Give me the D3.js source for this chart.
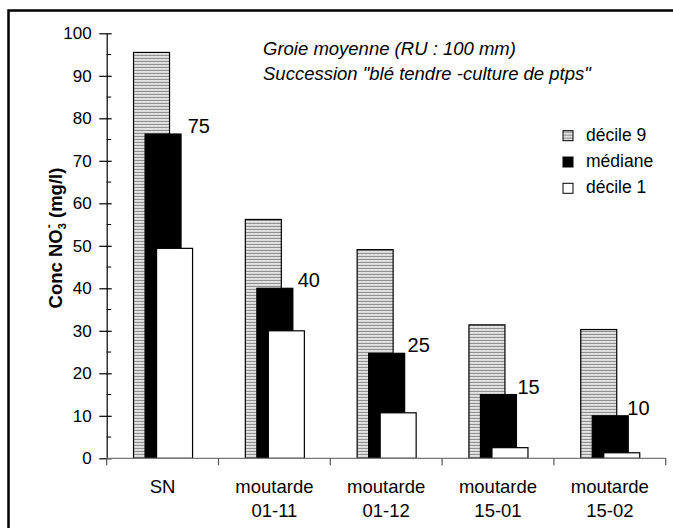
<!DOCTYPE html>
<html><head><meta charset="utf-8">
<script src="https://cdn.jsdelivr.net/npm/d3@7"></script>
<style>
html,body{margin:0;padding:0;background:#fff;overflow:hidden;}
svg{display:block;}
text{font-family:"Liberation Sans",Arial,Helvetica,sans-serif;fill:#000;}
</style></head>
<body><svg id="c" width="673" height="528"></svg>
<script>
const categories = [["SN"],["moutarde","01-11"],["moutarde","01-12"],["moutarde","15-01"],["moutarde","15-02"]];
const decile9 = [95.5, 56.2, 49.1, 31.4, 30.3];
const mediane = [76.3, 40.0, 24.7, 15.0, 10.0];
const decile1 = [49.4, 30.0, 10.7, 2.5, 1.3];
const medianLabels = ["75","40","25","15","10"];
const yMajorTicks = [0,10,20,30,40,50,60,70,80,90,100];
const yMinorTicks = [5,15,25,35,45,55,65,75,85,95];
const seriesNames = ["décile 9","médiane","décile 1"];
const titleLines = ["Groie moyenne (RU : 100 mm)", "Succession \"blé tendre -culture de ptps\""];

const svg = d3.select("#c");
const defs = svg.append("defs");
const pat = defs.append("pattern").attr("id","zig").attr("patternUnits","userSpaceOnUse")
  .attr("width",4).attr("height",3);
pat.append("rect").attr("width",4).attr("height",3).attr("fill","#ececec");
pat.append("path").attr("d","M0,2.2 L1,0.8 L2,2.2 L3,0.8 L4,2.2").attr("fill","none")
  .attr("stroke","#505050").attr("stroke-width",0.6);

// frame (only top and left edges fall inside the picture)
svg.append("path").attr("d","M8.5,640 V10.5 H760")
  .attr("fill","none").attr("stroke","#000").attr("stroke-width",2.5);

const x = d3.scaleBand().domain(d3.range(categories.length)).range([106.7,665.7]).padding(0);
const y = d3.scaleLinear().domain([0,100]).range([458.3,33.3]);
const bw = x.bandwidth();
const barW = bw*0.322, step = bw*0.103, startOff = bw*0.24;

const series = [
  {vals:decile9, fill:"url(#zig)"},
  {vals:mediane, fill:"#000"},
  {vals:decile1, fill:"#fff"}
];
series.forEach((s,si)=>{
  svg.append("g").selectAll("rect").data(s.vals).join("rect")
    .attr("x",(d,i)=>x(i)+startOff+si*step)
    .attr("y",d=>y(d))
    .attr("width",barW)
    .attr("height",d=>y(0)-y(d))
    .attr("fill",s.fill)
    .attr("stroke","#000").attr("stroke-width",1.2);
});

// median labels
svg.append("g").selectAll("text").data(mediane).join("text")
  .attr("x",(d,i)=>x(i)+bw*0.725 - i*1.9)
  .attr("y",d=>y(d)-1)
  .attr("font-size",20)
  .text((d,i)=>medianLabels[i]);

// y axis
const yAxis = d3.axisLeft(y).tickValues(yMajorTicks).tickSize(7).tickSizeOuter(0).tickPadding(8);
const gy = svg.append("g").attr("transform","translate(106.7,0)").call(yAxis);
gy.select(".domain").attr("stroke","#000").attr("stroke-width",1.2);
gy.selectAll(".tick line").attr("x2",-7.4).attr("x1",5).attr("stroke","#000").attr("stroke-width",1.2);
gy.selectAll(".tick text").attr("font-size",17).attr("font-family","Liberation Sans, Arial, sans-serif").attr("fill","#000");
gy.append("g").selectAll("line").data(yMinorTicks).join("line")
  .attr("x1",0).attr("x2",4.5).attr("y1",d=>y(d)).attr("y2",d=>y(d))
  .attr("stroke","#000").attr("stroke-width",1);

// x axis
const gx = svg.append("g").attr("transform",`translate(0,${y(0)})`);
gx.append("line").attr("x1",x.range()[0]).attr("x2",x.range()[1]).attr("y1",0).attr("y2",0)
  .attr("stroke","#777").attr("stroke-width",1.3);
const bounds = d3.range(categories.length+1).map(i=>x.range()[0]+i*bw);
gx.selectAll("line.t").data(bounds).join("line").attr("class","t")
  .attr("x1",d=>d).attr("x2",d=>d).attr("y1",0).attr("y2",7)
  .attr("stroke","#555").attr("stroke-width",1.2);
const cl = gx.selectAll("text.c").data(categories).join("text").attr("class","c")
  .attr("text-anchor","middle").attr("font-size",18.5)
  .attr("transform",(d,i)=>`translate(${x(i)+bw/2},0)`);
cl.selectAll("tspan").data(d=>d).join("tspan")
  .attr("x",0).attr("y",(d,j)=>35+j*24).text(d=>d);

// y label
const yl = svg.append("text").attr("transform","translate(61.7,238) rotate(-90)")
  .attr("text-anchor","middle").attr("font-weight","bold").attr("font-size",18.5);
yl.append("tspan").text("Conc NO");
yl.append("tspan").attr("font-size",11).attr("dy",4).text("3");
yl.append("tspan").attr("font-size",12).attr("dy",-13).attr("dx",-5).text("-");
yl.append("tspan").attr("dy",9).attr("dx",1).text(" (mg/l)");

// title
svg.append("g").selectAll("text").data(titleLines).join("text")
  .attr("x",263).attr("y",(d,i)=>55+i*24.5)
  .attr("font-style","italic").attr("font-size",18.5).text(d=>d);

// legend
const lg = svg.append("g").selectAll("g").data(seriesNames).join("g")
  .attr("transform",(d,i)=>`translate(563,${130.7+i*26.3})`);
lg.append("rect").attr("width",10).attr("height",10)
  .attr("fill",(d,i)=>series[i].fill).attr("stroke","#000").attr("stroke-width",1);
lg.append("text").attr("x",23).attr("y",9.8).attr("font-size",17.5).text(d=>d);
</script></body></html>
